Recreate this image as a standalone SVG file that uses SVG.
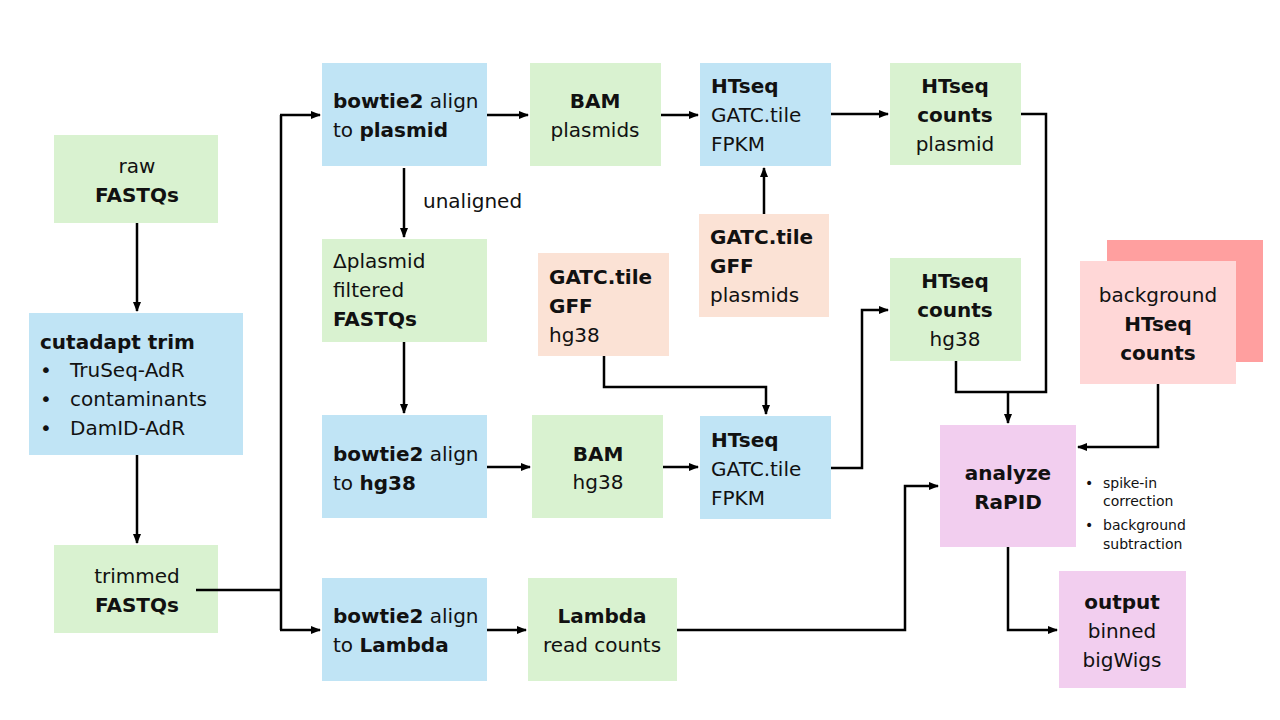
<svg xmlns="http://www.w3.org/2000/svg" width="1280" height="720" viewBox="0 0 1280 720">
<defs>
<marker id="ah" markerWidth="10" markerHeight="8" refX="9" refY="4" orient="auto" markerUnits="userSpaceOnUse">
<path d="M0,0 L10,4 L0,8 Z" fill="#000"/>
</marker>
<style>
text{font-family:"DejaVu Sans","Liberation Sans",Arial,sans-serif;font-size:20px;fill:#111}
.b{font-weight:bold}
.c{text-anchor:middle}
.s{font-size:14px}
.g{fill:#D9F2D0}
.bl{fill:#C0E4F5}
.o{fill:#FBE2D5}
.p{fill:#F2CEEF}
.conn path{fill:none;stroke:#000;stroke-width:2.5}
</style>
</defs>
<rect width="1280" height="720" fill="#fff"/>
<text x="423" y="208">unaligned</text>
<g id="raw">
<rect class="g" x="54" y="135" width="164" height="88"/>
<text class="c" x="137" y="173">raw</text>
<text class="c b" x="137" y="202">FASTQs</text>
</g>
<g id="cutadapt">
<rect class="bl" x="29" y="313" width="214" height="142"/>
<text class="b" x="40" y="349">cutadapt trim</text>
<text x="40" y="377">•</text><text x="70" y="377">TruSeq-AdR</text>
<text x="40" y="406">•</text><text x="70" y="406">contaminants</text>
<text x="40" y="435">•</text><text x="70" y="435">DamID-AdR</text>
</g>
<g id="trimmed">
<rect class="g" x="54" y="545" width="164" height="88"/>
<text class="c" x="137" y="583">trimmed</text>
<text class="c b" x="137" y="612">FASTQs</text>
</g>
<g id="bt-plasmid">
<rect class="bl" x="322" y="63" width="165" height="103"/>
<text x="333" y="108"><tspan class="b">bowtie2</tspan> align</text>
<text x="333" y="137">to <tspan class="b">plasmid</tspan></text>
</g>
<g id="bam-plasmids">
<rect class="g" x="530" y="63" width="131" height="103"/>
<text class="c b" x="595" y="108">BAM</text>
<text class="c" x="595" y="137">plasmids</text>
</g>
<g id="htseq-top">
<rect class="bl" x="700" y="63" width="131" height="103"/>
<text class="b" x="711" y="93">HTseq</text>
<text x="711" y="122">GATC.tile</text>
<text x="711" y="151">FPKM</text>
</g>
<g id="counts-plasmid">
<rect class="g" x="890" y="63" width="131" height="102"/>
<text class="c b" x="955" y="93">HTseq</text>
<text class="c b" x="955" y="122">counts</text>
<text class="c" x="955" y="151">plasmid</text>
</g>
<g id="dplasmid">
<rect class="g" x="322" y="239" width="165" height="103"/>
<text x="333" y="268">Δplasmid</text>
<text x="333" y="297">filtered</text>
<text class="b" x="333" y="326">FASTQs</text>
</g>
<g id="gff-plasmids">
<rect class="o" x="699" y="214" width="130" height="103"/>
<text class="b" x="710" y="244">GATC.tile</text>
<text class="b" x="710" y="273">GFF</text>
<text x="710" y="302">plasmids</text>
</g>
<g id="gff-hg38">
<rect class="o" x="538" y="253" width="131" height="103"/>
<text class="b" x="549" y="284">GATC.tile</text>
<text class="b" x="549" y="313">GFF</text>
<text x="549" y="342">hg38</text>
</g>
<g id="counts-hg38">
<rect class="g" x="890" y="258" width="131" height="103"/>
<text class="c b" x="955" y="288">HTseq</text>
<text class="c b" x="955" y="317">counts</text>
<text class="c" x="955" y="346">hg38</text>
</g>
<g id="background">
<rect x="1107" y="240" width="156" height="122" fill="#FF9F9F"/>
<rect x="1080" y="261" width="156" height="123" fill="#FFD7D7"/>
<text class="c" x="1158" y="302">background</text>
<text class="c b" x="1158" y="331">HTseq</text>
<text class="c b" x="1158" y="360">counts</text>
</g>
<g id="bt-hg38">
<rect class="bl" x="322" y="415" width="165" height="103"/>
<text x="333" y="461"><tspan class="b">bowtie2</tspan> align</text>
<text x="333" y="490">to <tspan class="b">hg38</tspan></text>
</g>
<g id="bam-hg38">
<rect class="g" x="532" y="415" width="131" height="103"/>
<text class="c b" x="598" y="461">BAM</text>
<text class="c" x="598" y="489">hg38</text>
</g>
<g id="htseq-bottom">
<rect class="bl" x="700" y="416" width="131" height="103"/>
<text class="b" x="711" y="447">HTseq</text>
<text x="711" y="476">GATC.tile</text>
<text x="711" y="505">FPKM</text>
</g>
<g id="analyze">
<rect class="p" x="940" y="425" width="136" height="122"/>
<text class="c b" x="1008" y="480">analyze</text>
<text class="c b" x="1008" y="509">RaPID</text>
<text class="s" x="1085" y="488">•</text>
<text class="s" x="1103" y="488">spike-in</text>
<text class="s" x="1103" y="506">correction</text>
<text class="s" x="1085" y="530">•</text>
<text class="s" x="1103" y="530">background</text>
<text class="s" x="1103" y="549">subtraction</text>
</g>
<g id="bt-lambda">
<rect class="bl" x="322" y="578" width="165" height="103"/>
<text x="333" y="623"><tspan class="b">bowtie2</tspan> align</text>
<text x="333" y="652">to <tspan class="b">Lambda</tspan></text>
</g>
<g id="lambda">
<rect class="g" x="528" y="578" width="149" height="103"/>
<text class="c b" x="602" y="623">Lambda</text>
<text class="c" x="602" y="652">read counts</text>
</g>
<g id="output">
<rect class="p" x="1059" y="571" width="127" height="117"/>
<text class="c b" x="1122" y="609">output</text>
<text class="c" x="1122" y="638">binned</text>
<text class="c" x="1122" y="667">bigWigs</text>
</g>
<g class="conn">
<path d="M137,223 V311" marker-end="url(#ah)"/>
<path d="M137,455 V543" marker-end="url(#ah)"/>
<path d="M196,590 H281"/>
<path d="M281,115 V630"/>
<path d="M280,115 H320" marker-end="url(#ah)"/>
<path d="M280,630 H320" marker-end="url(#ah)"/>
<path d="M487,115 H528" marker-end="url(#ah)"/>
<path d="M661,115 H698" marker-end="url(#ah)"/>
<path d="M831,114 H888" marker-end="url(#ah)"/>
<path d="M1021,114 H1046 V392 H956 V361"/>
<path d="M1008,392 V423" marker-end="url(#ah)"/>
<path d="M404,168 V237" marker-end="url(#ah)"/>
<path d="M404,342 V413" marker-end="url(#ah)"/>
<path d="M764,214 V168" marker-end="url(#ah)"/>
<path d="M604,356 V387 H766 V414" marker-end="url(#ah)"/>
<path d="M487,467 H530" marker-end="url(#ah)"/>
<path d="M663,467 H698" marker-end="url(#ah)"/>
<path d="M831,468 H862 V310 H888" marker-end="url(#ah)"/>
<path d="M487,630 H526" marker-end="url(#ah)"/>
<path d="M677,630 H905 V486 H938" marker-end="url(#ah)"/>
<path d="M1158,384 V447 H1078" marker-end="url(#ah)"/>
<path d="M1008,547 V630 H1057" marker-end="url(#ah)"/>
</g>
</svg>
